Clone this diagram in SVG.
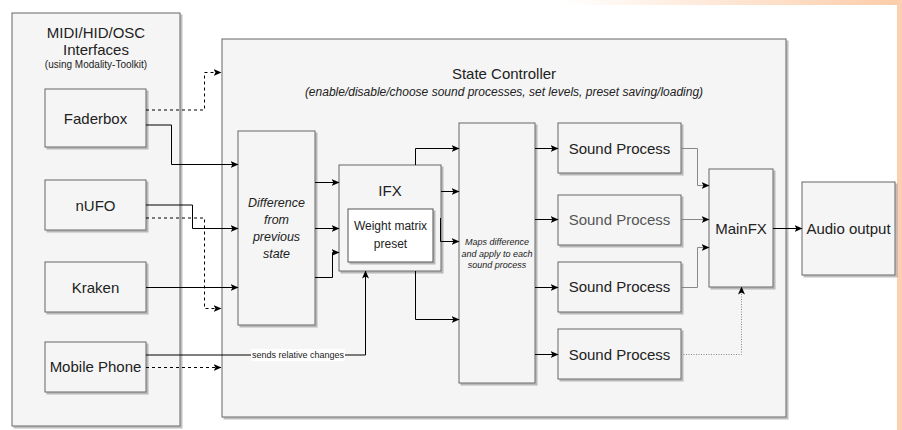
<svg xmlns="http://www.w3.org/2000/svg" width="902" height="430" viewBox="0 0 902 430">
<defs>
<linearGradient id="topg" x1="0" y1="0" x2="1" y2="0">
<stop offset="0" stop-color="#fccca8" stop-opacity="0"/>
<stop offset="1" stop-color="#fccca8" stop-opacity="1"/>
</linearGradient>
<filter id="sh" x="-10%" y="-10%" width="130%" height="130%">
<feDropShadow dx="2" dy="2" stdDeviation="0.6" flood-color="#000" flood-opacity="0.25"/>
</filter>
<marker id="ar" viewBox="0 0 8 7" refX="7.5" refY="3.5" markerWidth="8" markerHeight="7" markerUnits="userSpaceOnUse" orient="auto">
<path d="M0,0 L8,3.5 L0,7 L2,3.5 z" fill="#000"/>
</marker>
</defs>
<style>
.box{fill:#f5f5f5;stroke:#666;stroke-width:1;filter:url(#sh)}
.wbox{fill:#fff;stroke:#555;stroke-width:1;filter:url(#sh)}
.t{font-family:"Liberation Sans",Arial,sans-serif;fill:#222;text-anchor:middle;dominant-baseline:central}
.it{font-style:italic}
.c{fill:none;stroke:#000;stroke-width:1}
.g{fill:none;stroke:#888;stroke-width:1}
.d{stroke-dasharray:3,3}
.dot{stroke-dasharray:1,1.5}
</style>
<rect x="0" y="0" width="902" height="430" fill="#fff"/>
<rect x="560" y="0" width="342" height="5" fill="url(#topg)"/>
<rect x="897" y="0" width="5" height="430" fill="#fccfb0"/>

<g id="interfaces">
<rect class="box" x="12" y="13" width="168" height="413"/>
<text class="t" x="96" y="32" font-size="15">MIDI/HID/OSC</text>
<text class="t" x="96" y="49" font-size="15">Interfaces</text>
<text class="t" x="96" y="64" font-size="10">(using Modality-Toolkit)</text>
</g>
<g id="state-controller">
<rect class="box" x="222" y="39" width="564" height="378"/>
<text class="t" x="504" y="73" font-size="15">State Controller</text>
<text class="t it" x="504" y="92" font-size="12">(enable/disable/choose sound processes, set levels, preset saving/loading)</text>
</g>
<g id="faderbox">
<rect class="box" x="45" y="89" width="101" height="58"/>
<text class="t" x="95.5" y="118" font-size="15">Faderbox</text>
</g>
<g id="nufo">
<rect class="box" x="45" y="180" width="101" height="50"/>
<text class="t" x="95.5" y="205" font-size="15">nUFO</text>
</g>
<g id="kraken">
<rect class="box" x="45" y="262" width="101" height="50"/>
<text class="t" x="95.5" y="287" font-size="15">Kraken</text>
</g>
<g id="mobile-phone">
<rect class="box" x="45" y="342" width="101" height="50"/>
<text class="t" x="95.5" y="366" font-size="15">Mobile Phone</text>
</g>
<g id="difference">
<rect class="box" x="238" y="131" width="77" height="194"/>
<text class="t it" x="276.5" y="203" font-size="12.5">Difference</text>
<text class="t it" x="276.5" y="220" font-size="12.5">from</text>
<text class="t it" x="276.5" y="237" font-size="12.5">previous</text>
<text class="t it" x="276.5" y="254" font-size="12.5">state</text>
</g>
<g id="ifx">
<rect class="box" x="339" y="165" width="102" height="106"/>
<text class="t" x="390" y="190" font-size="15">IFX</text>
</g>
<g id="weight-matrix">
<rect class="wbox" x="348" y="209" width="85" height="53"/>
<text class="t" x="390.5" y="226" font-size="12">Weight matrix</text>
<text class="t" x="390.5" y="244" font-size="12">preset</text>
</g>
<g id="maps">
<rect class="box" x="459" y="123" width="76" height="260"/>
<text class="t it" x="497" y="242" font-size="9">Maps difference</text>
<text class="t it" x="497" y="254" font-size="9">and apply to each</text>
<text class="t it" x="497" y="265" font-size="9">sound process</text>
</g>
<g id="sound-process-1">
<rect class="box" x="558" y="123" width="123" height="50"/>
<text class="t" x="619.5" y="148" font-size="15">Sound Process</text>
</g>
<g id="sound-process-2">
<rect class="box" x="558" y="195" width="123" height="50"/>
<text class="t" x="619.5" y="219" font-size="15" style="fill:#555">Sound Process</text>
</g>
<g id="sound-process-3">
<rect class="box" x="558" y="262" width="123" height="50"/>
<text class="t" x="619.5" y="286" font-size="15">Sound Process</text>
</g>
<g id="sound-process-4">
<rect class="box" x="558" y="329" width="123" height="50"/>
<text class="t" x="619.5" y="354" font-size="15">Sound Process</text>
</g>
<g id="mainfx">
<rect class="box" x="709" y="169" width="64" height="118"/>
<text class="t" x="741" y="228" font-size="15">MainFX</text>
</g>
<g id="audio-output">
<rect class="box" x="802" y="182" width="93" height="93"/>
<text class="t" x="848.5" y="228" font-size="15">Audio output</text>
</g>

<g id="connectors">
<path class="c d" d="M146,110 H204.5 V72.5 H221" marker-end="url(#ar)"/>
<path class="c" d="M146,125 H171.5 V164.5 H238" marker-end="url(#ar)"/>
<path class="c" d="M146,205 H192.5 V228.5 H238" marker-end="url(#ar)"/>
<path class="c d" d="M146,218 H204.5 V308.5 H221" marker-end="url(#ar)"/>
<path class="c" d="M146,287.5 H238" marker-end="url(#ar)"/>
<path class="c" d="M146,355 H365.5 V271" marker-end="url(#ar)"/>
<rect x="251" y="349" width="94" height="12" fill="#fff"/>
<text class="t" x="298" y="355" font-size="9">sends relative changes</text>
<path class="c d" d="M146,367.5 H221" marker-end="url(#ar)"/>
<path class="c" d="M315,182.5 H339" marker-end="url(#ar)"/>
<path class="c" d="M315,228.5 H339" marker-end="url(#ar)"/>
<path class="c" d="M315,277.5 H332.5 V252.5 H339" marker-end="url(#ar)"/>
<path class="c" d="M415.5,165 V148.5 H459" marker-end="url(#ar)"/>
<path class="c" d="M441,191.5 H459" marker-end="url(#ar)"/>
<path class="c" d="M440.5,218 V241.5 H459" marker-end="url(#ar)"/>
<path class="c" d="M415.5,271 V319.5 H459" marker-end="url(#ar)"/>
<path class="c" d="M535,148.5 H558" marker-end="url(#ar)"/>
<path class="c" d="M535,219.5 H558" marker-end="url(#ar)"/>
<path class="c" d="M535,287.5 H558" marker-end="url(#ar)"/>
<path class="c" d="M535,354.5 H558" marker-end="url(#ar)"/>
<path class="g" d="M681,148.5 H697.5 V185.5 H709" marker-end="url(#ar)"/>
<path class="g" d="M681,219.5 H709" marker-end="url(#ar)"/>
<path class="g" d="M681,287.5 H697.5 V247.5 H709" marker-end="url(#ar)"/>
<path class="g dot" d="M681,354.5 H741.5 V287" marker-end="url(#ar)"/>
<path class="c" d="M773,228.5 H802" marker-end="url(#ar)"/>
</g>
</svg>
